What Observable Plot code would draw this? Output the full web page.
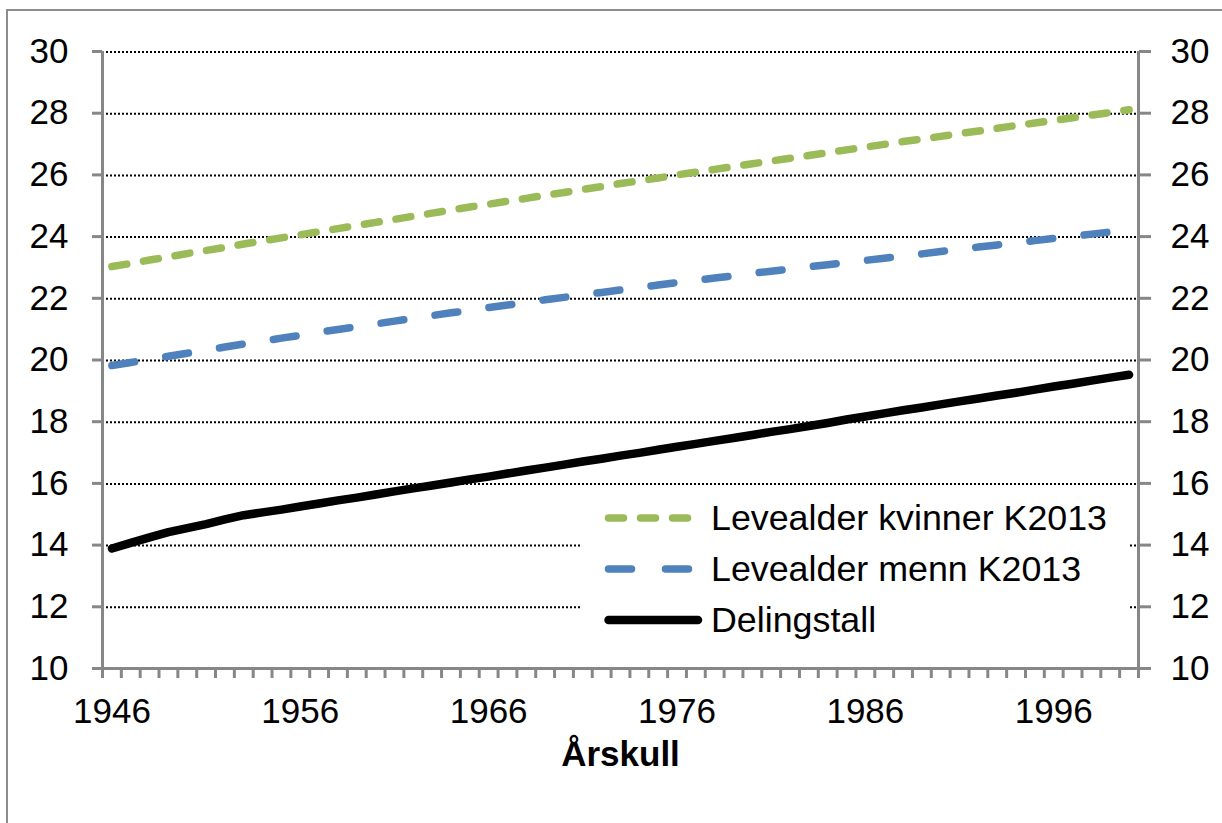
<!DOCTYPE html>
<html>
<head>
<meta charset="utf-8">
<script src="https://cdn.jsdelivr.net/npm/d3@7"></script>
<script src="https://cdn.jsdelivr.net/npm/@observablehq/plot@0.6"></script>
<style>
  body { margin: 0; overflow: hidden; background: #fff; font-family: "Liberation Sans", Arial, sans-serif; }
  #wrap { position: relative; width: 1222px; height: 823px; overflow: hidden; }
  #frame { position: absolute; left: 6px; top: 9px; width: 1400px; height: 1000px; border: 2.5px solid #8c8c8c; pointer-events: none; z-index: 3; }
  #chart { position: absolute; left: 0; top: 0; z-index: 1; }
  #legend { position: absolute; left: 581px; top: 492px; width: 547px; height: 155px; background: #fff; z-index: 2; }
  .row { position: absolute; left: 0; height: 40px; width: 547px; }
  .row svg { position: absolute; left: 20px; top: 0; }
  .row span { position: absolute; left: 130px; top: 0; line-height: 40px; font-size: 35.8px; color: #000; white-space: nowrap; }
</style>
</head>
<body>
<div id="wrap">
  <div id="chart"></div>
  <div id="legend"></div>
  <div id="frame"></div>
</div>
<script>
const years = d3.range(1946, 2001);
const kvinner = [23.03,23.13,23.24,23.34,23.45,23.55,23.65,23.76,23.86,23.96,
  24.06,24.16,24.26,24.36,24.46,24.56,24.66,24.76,24.86,24.96,
  25.05,25.15,25.24,25.34,25.43,25.53,25.62,25.72,25.81,25.90,
  26.00,26.09,26.18,26.27,26.36,26.45,26.54,26.63,26.72,26.81,
  26.90,26.99,27.08,27.16,27.25,27.34,27.42,27.51,27.60,27.68,
  27.77,27.85,27.94,28.02,28.11];
const menn = [19.82,19.92,20.02,20.12,20.22,20.32,20.42,20.52,20.61,20.71,
  20.80,20.90,20.99,21.08,21.17,21.26,21.35,21.44,21.53,21.61,
  21.70,21.78,21.87,21.95,22.03,22.11,22.19,22.27,22.35,22.43,
  22.51,22.58,22.66,22.73,22.81,22.88,22.95,23.02,23.09,23.16,
  23.23,23.30,23.37,23.44,23.52,23.59,23.66,23.73,23.80,23.87,
  23.94,24.01,24.08,24.15,24.22];
const delingstall = [13.89,14.07,14.25,14.42,14.55,14.68,14.83,14.97,15.06,15.15,
  15.25,15.35,15.45,15.54,15.64,15.74,15.84,15.93,16.03,16.13,
  16.22,16.32,16.42,16.51,16.61,16.71,16.80,16.90,16.99,17.09,
  17.19,17.28,17.38,17.47,17.57,17.67,17.76,17.86,17.96,18.07,
  18.17,18.27,18.37,18.46,18.56,18.66,18.75,18.85,18.94,19.04,
  19.14,19.23,19.33,19.43,19.52];
const xTickLabels = [1946, 1956, 1966, 1976, 1986, 1996];
const yTicks = [10, 12, 14, 16, 18, 20, 22, 24, 26, 28, 30];
const gridValues = [12, 14, 16, 18, 20, 22, 24, 26, 28, 30];
const seriesNames = ["Levealder kvinner K2013", "Levealder menn K2013", "Delingstall"];
const seriesColors = ["#9BBB59", "#4F81BD", "#000000"];
const seriesDash = ["15,17", "23,31.5", null];
const seriesWidth = [7.5, 7.5, 8.5];
const xLabel = "Årskull";

const seriesValues = [kvinner, menn, delingstall];
const series = seriesNames.map((name, i) => years.map((yr, j) => ({year: yr, value: seriesValues[i][j], name})));
const boundaries = years.map(y => y - 0.5).concat([years[years.length - 1] + 0.5]);
const xDomain = [boundaries[0], boundaries[boundaries.length - 1]];
const gray = "#878787";

const lineMarks = [0, 1, 2].map(i => Plot.line(series[i], {
  x: "year", y: "value",
  stroke: seriesColors[i], strokeWidth: seriesWidth[i],
  strokeDasharray: seriesDash[i] || undefined,
  strokeLinecap: "round", strokeLinejoin: "round"
}));

const chart = Plot.plot({
  width: 1222, height: 823,
  marginLeft: 102, marginRight: 84, marginTop: 51, marginBottom: 155,
  style: {fontFamily: '"Liberation Sans", Arial, sans-serif', fontSize: "35px", color: "#000", background: "transparent"},
  x: {type: "linear", domain: xDomain, axis: null},
  y: {domain: [10, 30], axis: null},
  marks: [
    Plot.ruleY(gridValues, {stroke: "#000", strokeWidth: 2, strokeDasharray: "2,2", dy: 0.5}),
    Plot.ruleX([xDomain[0], xDomain[1]], {stroke: gray, strokeWidth: 3}),
    Plot.ruleY([10], {stroke: gray, strokeWidth: 3}),
    Plot.axisY({anchor: "left", ticks: yTicks, tickSize: 10, tickPadding: 24, stroke: gray, strokeWidth: 3, fill: "#000", fontSize: 35, label: null}),
    Plot.axisY({anchor: "right", ticks: yTicks, tickSize: 12, tickPadding: 20, stroke: gray, strokeWidth: 3, fill: "#000", fontSize: 35, label: null}),
    Plot.axisX({anchor: "bottom", ticks: boundaries, tickSize: 10, tickFormat: () => "", stroke: gray, strokeWidth: 3, label: null}),
    Plot.axisX({anchor: "bottom", ticks: xTickLabels, tickSize: 0, tickPadding: 30, tickFormat: d => String(d), fill: "#000", fontSize: 35, label: null}),
    ...lineMarks,
    Plot.text([xLabel], {text: d => d, frameAnchor: "bottom", dy: 97, fontWeight: "bold", fontSize: 35, fill: "#000"})
  ]
});
document.getElementById("chart").appendChild(chart);

// Legend
const legend = document.getElementById("legend");
const rowCenters = [26, 77, 128];
seriesNames.forEach((name, i) => {
  const row = document.createElement("div");
  row.className = "row";
  row.style.top = (rowCenters[i] - 20) + "px";
  const dash = seriesDash[i] ? `stroke-dasharray="${i === 1 ? "23,34" : seriesDash[i]}"` : "";
  row.innerHTML = `<svg width="110" height="40"><line x1="7.5" y1="20" x2="${i === 2 ? 97 : 91}" y2="20" stroke="${seriesColors[i]}" stroke-width="${seriesWidth[i]}" stroke-linecap="round" ${dash}/></svg><span></span>`;
  row.querySelector("span").textContent = name;
  legend.appendChild(row);
});
</script>
</body>
</html>
